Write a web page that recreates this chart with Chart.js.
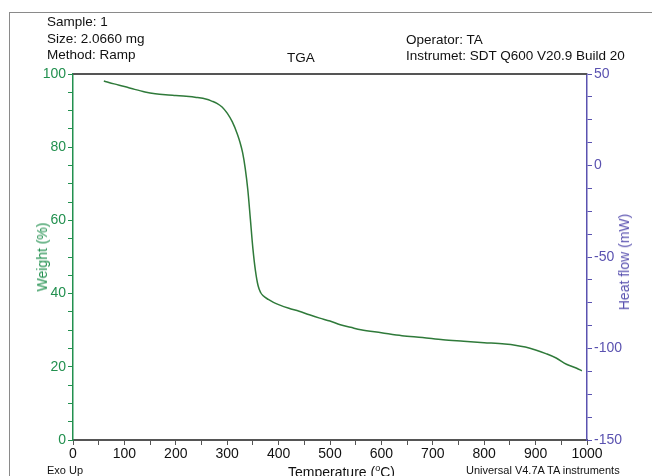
<!DOCTYPE html>
<html>
<head>
<meta charset="utf-8">
<script src="https://cdn.jsdelivr.net/npm/chart.js@4/dist/chart.umd.min.js"></script>
<style>
  html, body { margin: 0; padding: 0; background: #fff; overflow: hidden; }
  #wrap { position: relative; width: 652px; height: 476px; font-family: "Liberation Sans", Arial, sans-serif; }
  #frame { position: absolute; left: 9px; top: 12px; width: 700px; height: 500px; border-left: 1.5px solid #8a8a8a; border-top: 1.5px solid #8a8a8a; }
  canvas { position: absolute; left: 0; top: 0; }
  .t { position: absolute; white-space: nowrap; font-size: 13.5px; color: #111; line-height: 1; }
  .ax { position: absolute; white-space: nowrap; font-size: 14px; line-height: 1; }
</style>
</head>
<body>
<div id="wrap">
  <div id="frame"></div>
  <canvas id="c" width="652" height="476"></canvas>
  <div class="t" style="left:47px; top:15px;">Sample: 1</div>
  <div class="t" style="left:47px; top:32px;">Size: 2.0660 mg</div>
  <div class="t" style="left:47px; top:48px;">Method: Ramp</div>
  <div class="t" style="left:287px; top:51px;">TGA</div>
  <div class="t" style="left:406px; top:33px;">Operator: TA</div>
  <div class="t" style="left:406px; top:49px;">Instrumet: SDT Q600 V20.9 Build 20</div>
  <div class="ax" style="left:42px; top:257px; color:#22904f; transform: translate(-50%,-50%) rotate(-90deg);">Weight (%)</div>
  <div class="ax" style="left:624px; top:262px; color:#5a52b0; transform: translate(-50%,-50%) rotate(-90deg);">Heat flow (mW)</div>
  <div class="ax" style="left:288px; top:464px; color:#111;">Temperature (<sup style="font-size:9px;">o</sup>C)</div>
  <div class="t" style="left:47px; top:465px; font-size:11px;">Exo Up</div>
  <div class="t" style="left:466px; top:465px; font-size:11px;">Universal V4.7A TA instruments</div>
</div>
<script>
// Data
const temperatures = [60, 80, 100, 120, 140, 160, 180, 200, 220, 240, 260, 270, 280, 290, 300, 310, 320, 325, 330, 335, 340, 345, 350, 355, 360, 365, 370, 380, 390, 400, 420, 440, 460, 480, 500, 520, 540, 560, 600, 640, 680, 720, 760, 800, 840, 860, 880, 900, 920, 940, 960, 980, 990];
const weights = [98.1, 97.3, 96.6, 95.8, 95.1, 94.6, 94.3, 94.1, 93.9, 93.6, 93.1, 92.6, 92.0, 91.0, 89.3, 86.9, 83.5, 81.3, 78.5, 74.3, 68.5, 60.5, 52.3, 46.2, 42.2, 40.3, 39.4, 38.4, 37.6, 37.0, 36.0, 35.2, 34.2, 33.3, 32.5, 31.5, 30.8, 30.1, 29.3, 28.5, 28.0, 27.4, 27.0, 26.6, 26.2, 25.9, 25.4, 24.6, 23.6, 22.4, 20.7, 19.6, 18.9];
const xMajorTicks = [0, 100, 200, 300, 400, 500, 600, 700, 800, 900, 1000];
const weightMajorTicks = [0, 20, 40, 60, 80, 100];
const heatMajorTicks = [-150, -100, -50, 0, 50];

const green = '#22904f';
const lineGreen = '#2f7a3a';
const blue = '#5a52b0';
const dark = '#555555';

const points = temperatures.map((t, i) => ({ x: t, y: weights[i] }));

const topBorder = {
  id: 'topBorder',
  afterDraw(chart) {
    const { ctx, chartArea } = chart;
    ctx.save();
    ctx.strokeStyle = dark;
    ctx.lineWidth = 2;
    ctx.beginPath();
    ctx.moveTo(chartArea.left, chartArea.top);
    ctx.lineTo(chartArea.right, chartArea.top);
    ctx.stroke();
    ctx.restore();
  }
};

const font = { family: '"Liberation Sans", Arial, sans-serif', size: 14 };

new Chart(document.getElementById('c'), {
  type: 'line',
  data: {
    datasets: [
      { data: points, yAxisID: 'y', borderColor: lineGreen, borderWidth: 1.5, pointRadius: 0, cubicInterpolationMode: 'monotone', fill: false },
      { data: [], yAxisID: 'y2', borderColor: blue, pointRadius: 0 }
    ]
  },
  options: {
    responsive: false,
    animation: false,
    layout: { padding: { top: 74, left: 0, right: 0, bottom: 0 } },
    plugins: { legend: { display: false }, tooltip: { enabled: false } },
    scales: {
      x: {
        type: 'linear', min: 0, max: 1000,
        afterFit(s) { s.height = 36; },
        ticks: { stepSize: 50, autoSkip: false, maxRotation: 0, color: '#111', font, padding: 1,
          callback: v => xMajorTicks.includes(v) ? String(v) : '' },
        grid: { drawOnChartArea: false, tickLength: 5, tickColor: dark },
        border: { color: dark, width: 2 }
      },
      y: {
        position: 'left', min: 0, max: 100,
        afterFit(s) { s.width = 73; },
        ticks: { stepSize: 5, autoSkip: false, color: green, font, padding: 2,
          callback: v => weightMajorTicks.includes(v) ? String(v) : '' },
        grid: { drawOnChartArea: false, tickLength: 5, tickColor: green },
        border: { color: green, width: 1.5 }
      },
      y2: {
        position: 'right', min: -150, max: 50, display: true,
        afterFit(s) { s.width = 65; },
        ticks: { stepSize: 12.5, autoSkip: false, color: blue, font, padding: 2,
          callback: v => heatMajorTicks.includes(v) ? String(v) : '' },
        grid: { drawOnChartArea: false, tickLength: 5, tickColor: blue },
        border: { color: blue, width: 1.5 }
      }
    }
  },
  plugins: [topBorder]
});
</script>
</body>
</html>
